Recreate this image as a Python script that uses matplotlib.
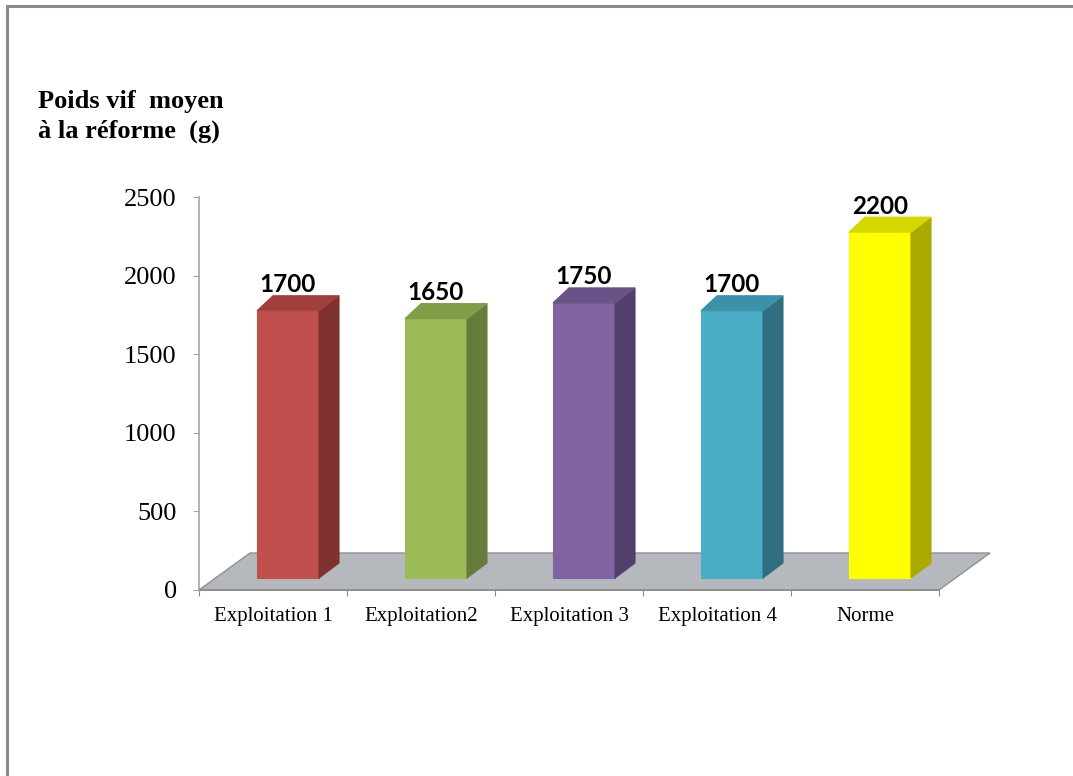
import matplotlib
matplotlib.use("Agg")
import matplotlib.pyplot as plt
from matplotlib.patches import Polygon, Rectangle

# ---- data ----
categories = ["Exploitation 1", "Exploitation2", "Exploitation 3", "Exploitation 4", "Norme"]
values = [1700, 1650, 1750, 1700, 2200]
labels = ["1700", "1650", "1750", "1700", "2200"]
yticks = [0, 500, 1000, 1500, 2000, 2500]
title_text = "Poids vif  moyen\nà la réforme  (g)"

front_cols = ["#C0504D", "#9BBB59", "#8064A2", "#4BACC6", "#FFFF00"]
top_cols = ["#A13F3C", "#809D48", "#6A5289", "#3C90A7", "#D6D600"]
side_cols = ["#7E312F", "#667C3A", "#533F6C", "#2F6F81", "#A9A900"]

W, H = 1073, 776
fig = plt.figure(figsize=(W / 100, H / 100), dpi=100)
ax = fig.add_axes([199 / W, (H - 590) / H, 740 / W, 393 / H])
ax.set_xlim(0, 5)
ax.set_ylim(0, 2500)

dxp = 5 / 740.0      # data units per pixel (x)
dyp = 2500 / 393.0   # data units per pixel (y)

# floor
fdx, fdy = 51 * dxp, 37 * dyp
floor = Polygon([(0, 0), (5, 0), (5 + fdx, fdy), (fdx, fdy)], closed=True,
                facecolor="#B5B9BD", edgecolor="#8E9094", lw=1.0, clip_on=False, zorder=1)
ax.add_patch(floor)

# bars (pseudo-3D)
bw = 62 * dxp
shx, shy = 15 * dxp, 12 * dyp
sdx, sdy = 20 * dxp, 15 * dyp
for i, v in enumerate(values):
    xc = i + 0.5 + shx
    x0, x1 = xc - bw / 2, xc + bw / 2
    y0, y1 = shy, shy + v
    front = Polygon([(x0, y0), (x1, y0), (x1, y1), (x0, y1)], closed=True,
                    facecolor=front_cols[i], edgecolor=front_cols[i], lw=0.8, clip_on=False, zorder=3)
    side = Polygon([(x1, y0), (x1 + sdx, y0 + sdy), (x1 + sdx, y1 + sdy), (x1, y1)], closed=True,
                   facecolor=side_cols[i], edgecolor=side_cols[i], lw=0.8, clip_on=False, zorder=3)
    top = Polygon([(x0, y1), (x1, y1), (x1 + sdx, y1 + sdy), (x0 + sdx * 0.8, y1 + sdy)], closed=True,
                  facecolor=top_cols[i], edgecolor=top_cols[i], lw=0.8, clip_on=False, zorder=3)
    for p in (front, side, top):
        ax.add_patch(p)
    ax.text(xc, y1 + 26 * dyp, labels[i], ha="center", va="center",
            fontsize=17.5, fontweight="bold", family=["Lato", "DejaVu Sans"], zorder=5, clip_on=False)

# axes styling
for s in ("top", "right"):
    ax.spines[s].set_visible(False)
ax.spines["left"].set_color("#A6A6A6")
ax.spines["left"].set_linewidth(1.2)
ax.spines["bottom"].set_color("#8C8C8C")
ax.spines["bottom"].set_linewidth(1.2)
ax.spines["bottom"].set_zorder(2)

ax.set_yticks(yticks)
ax.set_yticklabels([str(t) for t in yticks], family="Liberation Serif", fontsize=19)
ax.tick_params(axis="y", direction="out", length=4, color="#A6A6A6", pad=12)

ax.set_xticks(range(6))
ax.set_xticklabels([])
ax.set_xticks([i + 0.5 for i in range(5)], minor=True)
ax.set_xticklabels(categories, minor=True, family="Liberation Serif", fontsize=15)
ax.tick_params(axis="x", which="major", direction="out", length=4.5, color="#8C8C8C")
ax.tick_params(axis="x", which="minor", length=0, pad=12.5)
ax.patch.set_visible(False)

# title
fig.text(38 / W, 1 - 90 / H, title_text, ha="left", va="top",
         family="Liberation Serif", fontweight="bold", fontsize=19, linespacing=1.38)

# outer border (left/top only visible)
border = Rectangle((7 / W, -0.1), 1.2, 1 - 6 / H + 0.1, transform=fig.transFigure,
                   facecolor="none", edgecolor="#8A8A8A", lw=2.2)
fig.add_artist(border)

fig.savefig("out.png", dpi=100)
